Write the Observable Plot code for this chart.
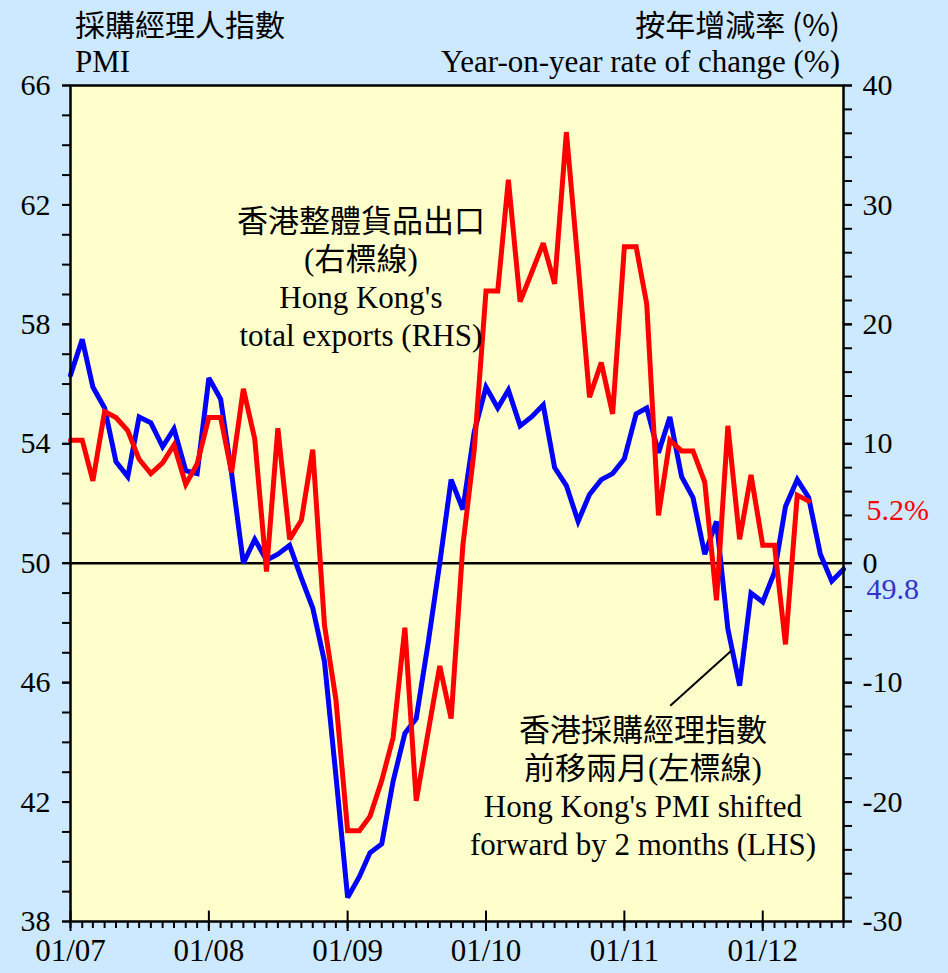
<!DOCTYPE html>
<html><head><meta charset="utf-8">
<script src="https://cdn.jsdelivr.net/npm/d3@7"></script>
<script src="https://cdn.jsdelivr.net/npm/@observablehq/plot@0.6"></script>
<style>
html,body{margin:0;padding:0;background:#cce9ff;}
#wrap{position:relative;width:948px;height:973px;overflow:hidden;background:#cce9ff;}
#wrap svg{position:absolute;left:0;top:0;}
.t{position:absolute;white-space:nowrap;color:#000;line-height:36px;font-family:"Liberation Serif","Noto Sans CJK TC",serif;font-size:31px;}
.cjk{font-family:"Noto Sans CJK TC","Liberation Serif",sans-serif;font-size:30px;}
</style></head><body><div id="wrap"></div>
<script>
// Hong Kong PMI shifted forward by 2 months (LHS), Jan 2007 - Aug 2012
const pmiShifted = [
  56.3, 57.5, 55.9, 55.2, 53.4, 52.9, 54.9, 54.7, 53.9, 54.5, 53.1, 53.0,
  56.2, 55.5, 53.0, 50.0, 50.8, 50.1, 50.3, 50.6, 49.5, 48.5, 46.7, 42.9,
  38.8, 39.5, 40.3, 40.6, 42.7, 44.3, 44.8, 47.3, 50.0, 52.8, 51.8, 54.4,
  55.9, 55.2, 55.8, 54.6, 54.9, 55.3, 53.2, 52.6, 51.4, 52.3, 52.8, 53.0,
  53.5, 55.0, 55.2, 53.7, 54.9, 52.9, 52.2, 50.3, 51.4, 47.8, 45.9, 49.0,
  48.7, 49.7, 51.9, 52.8, 52.2, 50.3, 49.4, 49.8
];
// Hong Kong total exports, year-on-year % change (RHS), Jan 2007 - May 2012
const exportsYoY = [
  10.3, 10.3, 6.9, 12.7, 12.2, 11.1, 8.7, 7.5, 8.4, 9.9, 6.6, 8.3,
  12.2, 12.2, 7.6, 14.6, 10.4, -0.7, 11.3, 2.0, 3.6, 9.5, -5.2, -11.4,
  -22.4, -22.4, -21.2, -18.2, -14.6, -5.4, -19.9, -14.2, -8.6, -13.0, 1.5, 9.5,
  22.8, 22.8, 32.1, 21.9, 24.3, 26.8, 23.4, 36.1, 25.0, 13.9, 16.8, 12.5,
  26.5, 26.5, 21.7, 4.0, 10.3, 9.4, 9.4, 6.8, -3.1, 11.5, 2.0, 7.4,
  1.5, 1.5, -6.8, 5.7, 5.2
];
const leftTicks = [38, 42, 46, 50, 54, 58, 62, 66];
const rightTicks = [-30, -20, -10, 0, 10, 20, 30, 40];
const xTickLabels = ["01/07", "01/08", "01/09", "01/10", "01/11", "01/12"];
const upperNote = "香港整體貨品出口\n(右標線)\nHong Kong's\ntotal exports (RHS)";
const lowerNote = "香港採購經理指數\n前移兩月(左標線)\nHong Kong's PMI shifted\nforward by 2 months (LHS)";
const lastExportLabel = "5.2%";
const lastPmiLabel = "49.8";

const months = d3.utcMonth.range(new Date(Date.UTC(2007, 0, 1)), new Date(Date.UTC(2012, 8, 1)));
const pmiData = pmiShifted.map((v, i) => ({date: months[i], v}));
const expData = exportsYoY.map((v, i) => ({date: months[i], v}));
const yearDates = months.filter(d => d.getUTCMonth() === 0);
const labelByTime = new Map(yearDates.map((d, i) => [+d, xTickLabels[i]]));
const toL = v => 50 + v * 0.4; // RHS % -> LHS PMI units

const font = "Liberation Serif, Noto Sans CJK TC, serif";
const chart = Plot.plot({
  width: 948, height: 973,
  marginLeft: 70, marginRight: 105, marginTop: 85, marginBottom: 52,
  style: {background: "transparent", fontFamily: font, fontSize: "30px", color: "black", overflow: "visible"},
  x: {type: "utc", domain: [months[0], months[months.length - 1]]},
  y: {domain: [38, 66]},
  marks: [
    Plot.frame({fill: "#ffffcc", stroke: "none"}),
    Plot.ruleY([50], {stroke: "black", strokeWidth: 2.5}),
    Plot.line(pmiData, {x: "date", y: "v", stroke: "#0000ff", strokeWidth: 5, strokeLinejoin: "miter", strokeMiterlimit: 3}),
    Plot.line(expData, {x: "date", y: d => toL(d.v), stroke: "#ff0000", strokeWidth: 5, strokeLinejoin: "miter", strokeMiterlimit: 3}),
    Plot.frame({stroke: "black", strokeWidth: 2.5}),
    // left axis
    Plot.axisY(d3.range(38, 67, 1), {anchor: "left", tickSize: 8, tickFormat: () => "", label: null, strokeWidth: 2}),
    Plot.axisY(leftTicks, {anchor: "left", tickSize: 8, tickPadding: 12, label: null, strokeWidth: 2, fontSize: 30}),
    // right axis
    Plot.axisY(d3.range(-30, 41, 2).map(toL), {anchor: "right", tickSize: 8, tickFormat: () => "", label: null, strokeWidth: 2}),
    Plot.axisY(rightTicks.map(toL), {anchor: "right", tickSize: 8, tickPadding: 11, label: null, strokeWidth: 2, fontSize: 30,
      tickFormat: d => String(Math.round((d - 50) / 0.4))}),
    // bottom axis
    Plot.axisX(months, {anchor: "bottom", tickSize: 7, tickFormat: () => "", label: null, strokeWidth: 2}),
    Plot.axisX(yearDates, {anchor: "bottom", tickSize: 10, tickPadding: 7, label: null, strokeWidth: 2, fontSize: 31,
      tickFormat: d => labelByTime.get(+d)}),
    Plot.ruleX(yearDates, {y1: 38, y2: 38.35, stroke: "black", strokeWidth: 2}),
    // annotations
    Plot.text([upperNote], {x: () => new Date(Date.UTC(2009, 1, 5)), y: () => 59.6, text: d => d,
      fontSize: 31, lineHeight: 1.23, fill: "black", fontFamily: font}),
    Plot.text([lowerNote], {x: () => new Date(Date.UTC(2011, 1, 19)), y: () => 42.55, text: d => d,
      fontSize: 31, lineHeight: 1.23, fill: "black", fontFamily: font}),
    Plot.link([0], {x1: () => new Date(Date.UTC(2011, 4, 2)), y1: () => 45.23,
      x2: () => new Date(Date.UTC(2011, 9, 10)), y2: () => 47.07, stroke: "black", strokeWidth: 2}),
    Plot.text([lastExportLabel], {x: () => months[months.length - 1], y: () => toL(exportsYoY[exportsYoY.length - 1]),
      text: d => d, dx: 23, dy: 9, textAnchor: "start", fill: "#ff0000", fontSize: 30}),
    Plot.text([lastPmiLabel], {x: () => months[months.length - 1], y: () => pmiShifted[pmiShifted.length - 1],
      text: d => d, dx: 23, dy: 20, textAnchor: "start", fill: "#3333cc", fontSize: 30})
  ]
});
const wrap = document.getElementById("wrap");
wrap.appendChild(chart);
function addText(txt, cls, css) {
  const d = document.createElement("div");
  d.className = cls;
  d.textContent = txt;
  Object.assign(d.style, css);
  wrap.appendChild(d);
}
addText("採購經理人指數", "t cjk", {left: "75px", top: "5px"});
addText("PMI", "t", {left: "75px", top: "44px"});
addText("按年增減率 (%)", "t cjk", {right: "108px", top: "5px"});
addText("Year-on-year rate of change (%)", "t", {right: "108px", top: "44px"});
</script>
</body></html>
